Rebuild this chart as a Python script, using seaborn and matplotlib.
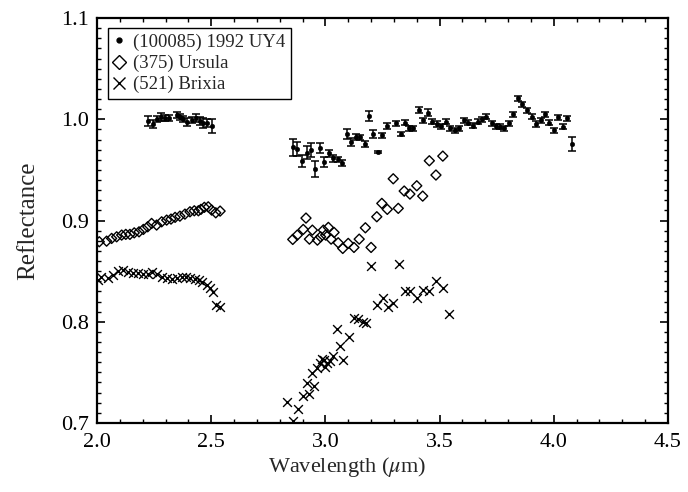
import numpy as np
import pandas as pd
import matplotlib
matplotlib.use("Agg")
import matplotlib.pyplot as plt
import seaborn as sns
from matplotlib.ticker import MultipleLocator, FormatStrFormatter
from matplotlib.lines import Line2D

# ---- (100085) 1992 UY4 : filled dots with error bars ----
uy4_x = [2.225, 2.244, 2.261, 2.280, 2.298, 2.315, 2.349, 2.363, 2.378, 2.395, 2.415, 2.433, 2.451, 2.465, 2.483, 2.502,
         2.857, 2.874, 2.896, 2.918, 2.936, 2.956, 2.976, 2.994, 3.015, 3.035, 3.056, 3.074, 3.093, 3.112, 3.134, 3.151,
         3.173, 3.192, 3.210, 3.229, 3.249, 3.271, 3.309, 3.330, 3.349, 3.366, 3.385, 3.410, 3.429, 3.451, 3.468, 3.487,
         3.505, 3.527, 3.546, 3.567, 3.586, 3.607, 3.626, 3.648, 3.669, 3.687, 3.703, 3.728, 3.747, 3.764, 3.782, 3.804,
         3.823, 3.842, 3.862, 3.881, 3.903, 3.922, 3.943, 3.961, 3.980, 4.001, 4.020, 4.039, 4.059, 4.080]
uy4_y = [0.9985, 0.9953, 0.9999, 1.0025, 1.0015, 1.0009, 1.0042, 1.0019, 1.0002, 0.9975, 0.9992, 1.0009, 0.9985, 0.9959, 0.9965, 0.9933,
         0.9722, 0.9703, 0.9590, 0.9669, 0.9696, 0.9505, 0.9712, 0.9580, 0.9663, 0.9614, 0.9604, 0.9570, 0.9854, 0.9772, 0.9827, 0.9821,
         0.9755, 1.0032, 0.9854, 0.9679, 0.9844, 0.9933, 0.9959, 0.9854, 0.9965, 0.9910, 0.9910, 1.0091, 0.9992, 1.0064, 0.9975, 0.9953,
         0.9933, 0.9975, 0.9910, 0.9893, 0.9910, 0.9992, 0.9965, 0.9936, 0.9975, 0.9999, 1.0025, 0.9959, 0.9933, 0.9926, 0.9910, 0.9959,
         1.0048, 1.0207, 1.0150, 1.0091, 1.0025, 0.9953, 0.9992, 1.0051, 0.9965, 0.9893, 1.0019, 0.9926, 1.0012, 0.9755]
uy4_err = [0.005, 0.004, 0.003, 0.004, 0.003, 0.003, 0.003, 0.003, 0.003, 0.004, 0.003, 0.004, 0.004, 0.005, 0.004, 0.007,
           0.0086, 0.007, 0.006, 0.0066, 0.007, 0.008, 0.005, 0.005, 0.0033, 0.0033, 0.0025, 0.0027, 0.0053, 0.004, 0.0027, 0.0027,
           0.0033, 0.005, 0.004, 0.001, 0.0025, 0.0027, 0.0025, 0.002, 0.0025, 0.0027, 0.0025, 0.003, 0.0025, 0.0033, 0.0025, 0.0025,
           0.0025, 0.0025, 0.0025, 0.0025, 0.0025, 0.0025, 0.0025, 0.0025, 0.0025, 0.0025, 0.0025, 0.0025, 0.0025, 0.0025, 0.0025, 0.0025,
           0.0025, 0.0025, 0.0025, 0.0025, 0.0025, 0.0025, 0.0025, 0.0025, 0.0025, 0.0025, 0.0025, 0.0025, 0.0025, 0.0066]

# ---- (375) Ursula : open diamonds ----
ursula_x = [2.010, 2.042, 2.064, 2.086, 2.108, 2.126, 2.144, 2.163, 2.184, 2.203, 2.222, 2.239, 2.261, 2.283, 2.305, 2.324,
            2.342, 2.363, 2.385, 2.407, 2.426, 2.444, 2.455, 2.470, 2.487, 2.502, 2.520, 2.539,
            2.857, 2.877, 2.903, 2.915, 2.930, 2.943, 2.965, 2.979, 2.991, 3.001, 3.013, 3.025, 3.038, 3.056, 3.076, 3.100,
            3.125, 3.148, 3.175, 3.200, 3.225, 3.247, 3.271, 3.297, 3.319, 3.345, 3.370, 3.400, 3.426, 3.455, 3.484, 3.514]
ursula_y = [0.8790, 0.8796, 0.8823, 0.8839, 0.8856, 0.8863, 0.8863, 0.8878, 0.8888, 0.8912, 0.8938, 0.8971, 0.8955, 0.8987, 0.9004, 0.9014,
            0.9031, 0.9043, 0.9063, 0.9086, 0.9096, 0.9096, 0.9110, 0.9130, 0.9135, 0.9103, 0.9076, 0.9093,
            0.8813, 0.8856, 0.8912, 0.9024, 0.8816, 0.8905, 0.8806, 0.8839, 0.8905, 0.8856, 0.8932, 0.8816, 0.8882, 0.8780, 0.8724, 0.8774,
            0.8734, 0.8816, 0.8928, 0.8734, 0.9037, 0.9169, 0.9110, 0.9412, 0.9120, 0.9291, 0.9261, 0.9343, 0.9241, 0.9590, 0.9449, 0.9636]

# ---- (521) Brixia : crosses ----
brixia_x = [2.003, 2.018, 2.047, 2.071, 2.093, 2.115, 2.137, 2.159, 2.181, 2.203, 2.222, 2.239, 2.261, 2.283, 2.305, 2.327,
            2.349, 2.371, 2.388, 2.407, 2.429, 2.448, 2.461, 2.480, 2.495, 2.509, 2.520, 2.539,
            2.833, 2.857, 2.881, 2.903, 2.918, 2.930, 2.943, 2.951, 2.962, 2.976, 2.984, 2.994, 2.998, 3.008, 3.020, 3.035,
            3.049, 3.064, 3.078, 3.103, 3.125, 3.144, 3.163, 3.176, 3.200, 3.225, 3.251, 3.275, 3.297, 3.324, 3.349, 3.370,
            3.400, 3.426, 3.455, 3.483, 3.516, 3.542]
brixia_y = [0.8411, 0.8444, 0.8428, 0.8460, 0.8503, 0.8510, 0.8493, 0.8483, 0.8477, 0.8470, 0.8467, 0.8493, 0.8467, 0.8444, 0.8428, 0.8421,
            0.8428, 0.8438, 0.8444, 0.8428, 0.8421, 0.8411, 0.8394, 0.8362, 0.8329, 0.8295, 0.8164, 0.8147,
            0.7203, 0.7021, 0.7136, 0.7268, 0.7396, 0.7291, 0.7489, 0.7364, 0.7548, 0.7588, 0.7637, 0.7621, 0.7554, 0.7594, 0.7614, 0.7660,
            0.7924, 0.7759, 0.7621, 0.7851, 0.8033, 0.8023, 0.7999, 0.7983, 0.8549, 0.8164, 0.8230, 0.8141, 0.8187, 0.8569, 0.8302, 0.8305,
            0.8230, 0.8312, 0.8302, 0.8404, 0.8329, 0.8075]

labels = ["(100085) 1992 UY4", "(375) Ursula", "(521) Brixia"]
x_ticks = [2.0, 2.5, 3.0, 3.5, 4.0, 4.5]
y_ticks = [0.7, 0.8, 0.9, 1.0, 1.1]

sns.set_theme(style="ticks")
plt.rcParams["font.family"] = ["Liberation Serif", "DejaVu Serif"]
plt.rcParams["mathtext.fontset"] = "stix"

fig = plt.figure(figsize=(6.88, 4.92), dpi=100)
ax = fig.add_axes([97 / 688, 1 - 423 / 492, (668 - 97) / 688, (423 - 18) / 492])

df_uy4 = pd.DataFrame({"w": uy4_x, "r": uy4_y, "e": uy4_err})
df_urs = pd.DataFrame({"w": ursula_x, "r": ursula_y})
df_brx = pd.DataFrame({"w": brixia_x, "r": brixia_y})

ax.errorbar(df_uy4["w"], df_uy4["r"], yerr=df_uy4["e"], fmt="none", ecolor="black",
            elinewidth=1.1, capsize=2.8, capthick=1.1, zorder=3)
sns.scatterplot(data=df_uy4, x="w", y="r", ax=ax, marker="o", s=11, color="black",
                edgecolor="black", linewidth=0.3, zorder=4)
sns.scatterplot(data=df_urs, x="w", y="r", ax=ax, marker="D", s=26, facecolors="none",
                edgecolor="black", linewidth=1.0, zorder=4)
sns.scatterplot(data=df_brx, x="w", y="r", ax=ax, marker="x", s=40, color="black",
                linewidth=1.0, zorder=4)

ax.set_xlim(2.0, 4.5)
ax.set_ylim(0.7, 1.1)
ax.set_xticks(x_ticks)
ax.set_yticks(y_ticks)
ax.xaxis.set_major_formatter(FormatStrFormatter("%.1f"))
ax.yaxis.set_major_formatter(FormatStrFormatter("%.1f"))
ax.xaxis.set_minor_locator(MultipleLocator(0.1))
ax.yaxis.set_minor_locator(MultipleLocator(0.01))
ax.tick_params(which="both", direction="in", top=True, right=True, colors="black",
               labelsize=16)
ax.tick_params(which="major", length=5.5, width=1.2)
ax.tick_params(which="minor", length=3, width=1.0)
ax.tick_params(axis="y", which="major", pad=6)
ax.tick_params(axis="x", which="major", pad=7)
for sp in ax.spines.values():
    sp.set_linewidth(1.6)
    sp.set_color("black")

ax.set_xlabel(r"Wavelength ($\mu$m)", fontsize=16)
ax.xaxis.set_label_coords(0.438, -0.08)
ax.set_ylabel("Reflectance", fontsize=18)
ax.yaxis.set_label_coords(-0.101, 0.5)

handles = [
    Line2D([], [], linestyle="none", marker="o", markersize=3.5, color="black"),
    Line2D([], [], linestyle="none", marker="D", markersize=7, markerfacecolor="none",
           markeredgecolor="black", markeredgewidth=1.0),
    Line2D([], [], linestyle="none", marker="x", markersize=9, color="black",
           markeredgewidth=1.0),
]
leg = ax.legend(handles, labels, loc="upper left", bbox_to_anchor=(0.019, 0.975),
                fontsize=13.5, frameon=True, fancybox=False, edgecolor="black",
                handlelength=0.6, handletextpad=0.45, borderpad=0.3,
                labelspacing=0.2, borderaxespad=0.0)
leg.get_frame().set_linewidth(1.0)
leg.get_frame().set_alpha(1)

fig.savefig("out.png", dpi=100)
